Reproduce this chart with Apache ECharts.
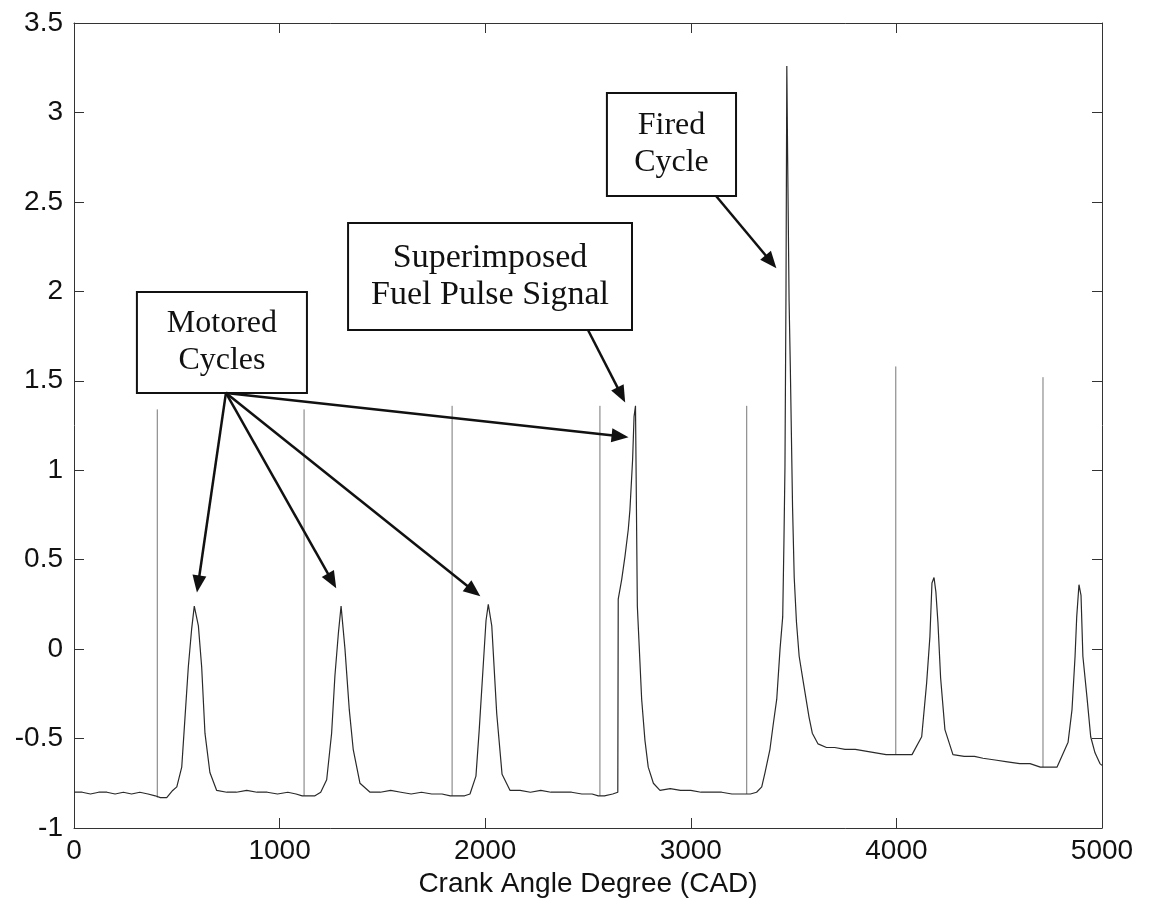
<!DOCTYPE html>
<html>
<head>
<meta charset="utf-8">
<title>Crank Angle Degree (CAD)</title>
<script src="https://cdn.jsdelivr.net/npm/echarts@6/dist/echarts.min.js"></script>
<style>
  html, body { margin: 0; padding: 0; background: #fff; }
  #chart { width: 1149px; height: 918px; }
</style>
</head>
<body>
<div id="chart"></div>
<script>
// Cylinder pressure trace against crank angle
const cad = [
  0, 40, 80, 120, 160, 200, 240, 280, 320, 360, 395, 420, 451, 480, 500, 524, 540, 556, 572, 585,
  593, 605, 621, 637, 661, 694, 743, 790, 840, 890, 940, 990, 1040, 1080, 1110, 1140, 1172, 1200,
  1229, 1253, 1269, 1286, 1299, 1318, 1339, 1358, 1391, 1440, 1490, 1540, 1590, 1640, 1690, 1740,
  1790, 1830, 1860, 1900, 1926, 1955, 1971, 1991, 2004, 2015, 2032, 2056, 2082, 2121, 2170, 2220,
  2270, 2320, 2370, 2420, 2470, 2520, 2550, 2580, 2620, 2645, 2647, 2664, 2680, 2696, 2704, 2717,
  2724, 2731, 2738, 2740, 2761, 2777, 2793, 2818, 2850, 2900, 2950, 3000, 3050, 3100, 3150, 3200,
  3250, 3290, 3320, 3345, 3361, 3385, 3401, 3418, 3434, 3447, 3453, 3458, 3463, 3467, 3471, 3478,
  3484, 3495, 3503, 3514, 3527, 3548, 3575, 3591, 3619, 3660, 3700, 3750, 3800, 3850, 3900, 3950,
  3990, 4076, 4123, 4147, 4163, 4173, 4183, 4192, 4202, 4215, 4236, 4275, 4330, 4380, 4421, 4480,
  4540, 4600, 4650, 4700, 4781, 4835, 4854, 4869, 4877, 4888, 4898, 4907, 4927, 4945, 4966, 4990, 5000
];
const signal = [
  -0.80, -0.80, -0.81, -0.80, -0.80, -0.81, -0.80, -0.81, -0.80, -0.81, -0.82, -0.83, -0.83, -0.79, -0.77, -0.66, -0.38, -0.10, 0.11, 0.24,
  0.25, 0.13, -0.10, -0.47, -0.69, -0.79, -0.80, -0.80, -0.79, -0.80, -0.80, -0.81, -0.80, -0.81, -0.82, -0.82, -0.82, -0.80,
  -0.73, -0.47, -0.15, 0.09, 0.24, 0.00, -0.34, -0.56, -0.75, -0.80, -0.80, -0.79, -0.80, -0.81, -0.80, -0.81,
  -0.81, -0.82, -0.82, -0.82, -0.81, -0.71, -0.45, -0.08, 0.16, 0.25, 0.13, -0.36, -0.70, -0.79, -0.79, -0.80,
  -0.79, -0.80, -0.80, -0.80, -0.81, -0.81, -0.82, -0.82, -0.81, -0.80, 0.28, 0.39, 0.52, 0.67, 0.78, 1.06,
  1.30, 1.36, 1.36, 0.24, -0.28, -0.51, -0.66, -0.75, -0.79, -0.78, -0.79, -0.79, -0.80, -0.80, -0.80, -0.81,
  -0.81, -0.81, -0.80, -0.77, -0.69, -0.56, -0.42, -0.28, 0.00, 0.18, 0.60, 1.02, 2.00, 3.26, 2.75, 1.95,
  1.58, 0.79, 0.40, 0.15, -0.04, -0.19, -0.38, -0.47, -0.53, -0.55, -0.55, -0.56, -0.56, -0.57, -0.58, -0.59,
  -0.59, -0.59, -0.49, -0.19, 0.07, 0.37, 0.40, 0.32, 0.15, -0.16, -0.45, -0.59, -0.60, -0.60, -0.61, -0.62,
  -0.63, -0.64, -0.64, -0.66, -0.66, -0.52, -0.34, -0.04, 0.18, 0.36, 0.30, -0.04, -0.27, -0.49, -0.58, -0.64, -0.65
];

// Fuel injector pulses superimposed on the pressure signal
const pulseCad = [405, 1119, 1839, 2558, 3272, 3997, 4713];
const pulseTop = [1.34, 1.34, 1.36, 1.36, 1.36, 1.58, 1.52];
const pulseBase = [-0.83, -0.82, -0.82, -0.82, -0.81, -0.59, -0.66];

// Annotation boxes: [x0, y0, x1, y1] corners, text and text size
const boxText = ['Motored\nCycles', 'Superimposed\nFuel Pulse Signal', 'Fired\nCycle'];
const boxCorners = [
  [306, 1.996, 1133, 1.432],
  [1333, 2.382, 2714, 1.784],
  [2592, 3.109, 3220, 2.533]
];
const boxFontSize = [32, 34, 32];
// Annotation arrows: [fromX, fromY, toX, toY]
const arrows = [
  [739, 1.432, 604, 0.364],
  [739, 1.432, 1255, 0.381],
  [739, 1.432, 1944, 0.325],
  [739, 1.432, 2656, 1.190],
  [2500, 1.784, 2662, 1.421],
  [3123, 2.533, 3390, 2.165]
];

const xMin = 0, xMax = 5000, xStep = 1000;
const yMin = -1, yMax = 3.5, yStep = 0.5;

const traceData = cad.map((c, i) => [c, signal[i]]);
const pulseData = [];
pulseCad.forEach((c, i) => {
  pulseData.push([c, pulseBase[i]], [c, pulseTop[i]], [c, null]);
});

const sansFont = '"Liberation Sans", Arial, sans-serif';
const serifFont = '"Liberation Serif", "Times New Roman", serif';
const axisColor = '#333';

function frameAxis(extra) {
  return Object.assign({
    type: 'value',
    axisLine: { show: true, onZero: false, lineStyle: { color: axisColor, width: 1 } },
    axisTick: { show: true, inside: true, length: 10, lineStyle: { color: axisColor } },
    splitLine: { show: false }
  }, extra);
}

const chart = echarts.init(document.getElementById('chart'), null, { renderer: 'canvas' });
chart.setOption({
  animation: false,
  backgroundColor: '#fff',
  grid: { left: 74, right: 47, top: 23, bottom: 90, containLabel: false },
  xAxis: [
    frameAxis({
      position: 'bottom', min: xMin, max: xMax, interval: xStep,
      name: 'Crank Angle Degree (CAD)', nameLocation: 'middle', nameGap: 42,
      nameTextStyle: { fontFamily: sansFont, fontSize: 28, color: '#111' },
      axisLabel: {
        fontFamily: sansFont, fontSize: 28, color: '#111', margin: 9,
        formatter: v => String(v)
      }
    }),
    frameAxis({
      position: 'top', min: xMin, max: xMax, interval: xStep,
      axisLabel: { show: false }
    })
  ],
  yAxis: [
    frameAxis({
      position: 'left', min: yMin, max: yMax, interval: yStep,
      axisLabel: {
        fontFamily: sansFont, fontSize: 28, color: '#111', margin: 11,
        formatter: v => String(v)
      }
    }),
    frameAxis({
      position: 'right', min: yMin, max: yMax, interval: yStep,
      axisLabel: { show: false }
    })
  ],
  series: [
    {
      name: 'pulse',
      type: 'line',
      data: pulseData,
      showSymbol: false,
      connectNulls: false,
      lineStyle: { color: '#777', width: 1 },
      z: 2
    },
    {
      name: 'pressure',
      type: 'line',
      data: traceData,
      showSymbol: false,
      lineStyle: { color: '#2a2a2a', width: 1.2 },
      z: 3,
      markArea: {
        silent: true,
        itemStyle: { color: '#fff', borderColor: '#111', borderWidth: 2 },
        label: {
          show: true, position: 'inside',
          fontFamily: serifFont, fontSize: 32, lineHeight: 37, color: '#111'
        },
        data: boxCorners.map((b, i) => [
          {
            coord: [b[0], b[1]], name: boxText[i],
            label: { fontSize: boxFontSize[i], lineHeight: 37 }
          },
          { coord: [b[2], b[3]] }
        ])
      },
      markLine: {
        silent: true,
        symbol: ['none', 'triangle'],
        symbolSize: [14, 17],
        label: { show: false },
        lineStyle: { color: '#111', width: 2.5, type: 'solid' },
        data: arrows.map(a => [{ coord: [a[0], a[1]] }, { coord: [a[2], a[3]] }])
      }
    }
  ]
});
</script>
</body>
</html>
